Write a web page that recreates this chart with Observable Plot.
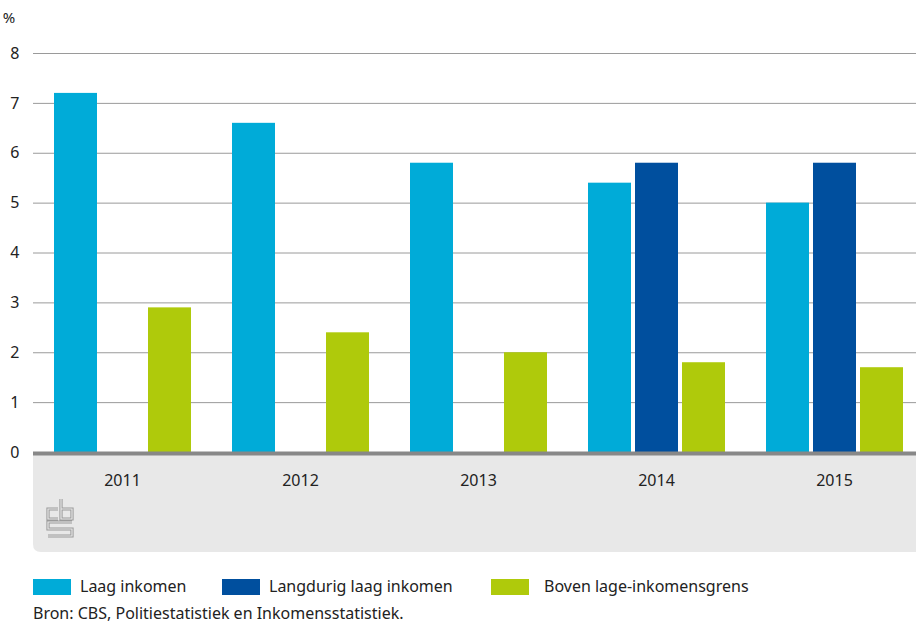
<!DOCTYPE html>
<html>
<head>
<meta charset="utf-8">
<script src="https://cdn.jsdelivr.net/npm/d3@7"></script>
<script src="https://cdn.jsdelivr.net/npm/@observablehq/plot@0.6"></script>
<style>
  body { margin: 0; background: #fff; font-family: "Noto Sans", sans-serif; color: #222; }
  #wrap { position: relative; width: 916px; height: 624px; overflow: hidden; }
  .sw { position: absolute; width: 38px; height: 16px; top: 579px; }
  .lt { position: absolute; top: 576px; font-size: 16px; line-height: 20px; }
  #src { position: absolute; left: 33px; top: 604px; font-size: 16px; line-height: 18px; }
</style>
</head>
<body>
<div id="wrap">
  <div id="chart"></div>
  <div id="legend"></div>
  <div id="src"></div>
</div>
<script>
const years = ["2011", "2012", "2013", "2014", "2015"];
const series = ["Laag inkomen", "Langdurig laag inkomen", "Boven lage-inkomensgrens"];
const laagInkomen = [7.2, 6.6, 5.8, 5.4, 5.0];
const langdurigLaagInkomen = [null, null, null, 5.8, 5.8];
const bovenGrens = [2.9, 2.4, 2.0, 1.8, 1.7];
const colors = ["#00abd8", "#004f9e", "#afca0b"];
const yTicks = [0, 1, 2, 3, 4, 5, 6, 7, 8];
const unitLabel = "%";
const sourceText = "Bron: CBS, Politiestatistiek en Inkomensstatistiek.";

const valuesBySeries = [laagInkomen, langdurigLaagInkomen, bovenGrens];
const data = [];
years.forEach((y, i) => {
  series.forEach((s, j) => {
    const v = valuesBySeries[j][i];
    if (v != null) data.push({year: y, series: s, value: v});
  });
});

const plot = Plot.plot({
  width: 916,
  height: 560,
  marginLeft: 33,
  marginRight: 0,
  marginTop: 53,
  marginBottom: 108,
  style: {fontFamily: "'Noto Sans', sans-serif", fontSize: "16px", color: "#222", background: "transparent"},
  fx: {domain: years, range: [33, 923], padding: 0, label: null},
  x: {domain: series, paddingInner: 0.095, paddingOuter: 0.421, axis: null},
  y: {domain: [0, 8], label: null},
  color: {domain: series, range: colors},
  marks: [
    Plot.gridY(yTicks, {stroke: "#9a9a9a", strokeOpacity: 1, strokeWidth: 1}),
    Plot.barY(data, {fx: "year", x: "series", y: "value", fill: "series"}),
    Plot.ruleY([0], {stroke: "#888", strokeWidth: 4, dy: 1}),
    Plot.axisY({ticks: yTicks, tickFormat: d => String(d), tickSize: 0, tickPadding: 14, label: null, fontSize: 16}),
    Plot.axisFx({anchor: "bottom", tickSize: 0, tickPadding: 22, label: null, fontSize: 16})
  ]
});

// grey axis band with rounded bottom-left corner (decoration)
const svg = d3.select(plot);
svg.insert("path", ":first-child")
  .attr("d", "M33,455 H930 V552 H41 Q33,552 33,544 Z")
  .attr("fill", "#e8e8e8");

// unit label
svg.append("text").attr("x", 9).attr("y", 23).attr("font-size", 15).attr("fill", "#222").text(unitLabel);

// cbs logo (decoration)
const logo = svg.append("g").attr("transform", "translate(47,498)").attr("fill", "none").attr("stroke-linejoin", "miter");
const logoPath = "M11,11 H1 V21 H11 M14,1 V21 H25 V11 H14 M25,24 H1 V31 H25 V38 H1";
logo.append("path").attr("d", logoPath).attr("stroke", "#9a9a9a").attr("stroke-width", 3.2);
logo.append("path").attr("d", logoPath).attr("stroke", "#e8e8e8").attr("stroke-width", 1.2);

document.getElementById("chart").appendChild(plot);

// legend
const legendPos = [[33, 80], [222, 269], [491, 544]];
const legend = document.getElementById("legend");
series.forEach((s, i) => {
  const sw = document.createElement("div");
  sw.className = "sw";
  sw.style.left = legendPos[i][0] + "px";
  sw.style.background = colors[i];
  legend.appendChild(sw);
  const t = document.createElement("div");
  t.className = "lt";
  t.style.left = legendPos[i][1] + "px";
  t.textContent = s;
  legend.appendChild(t);
});
document.getElementById("src").textContent = sourceText;
</script>
</body>
</html>
